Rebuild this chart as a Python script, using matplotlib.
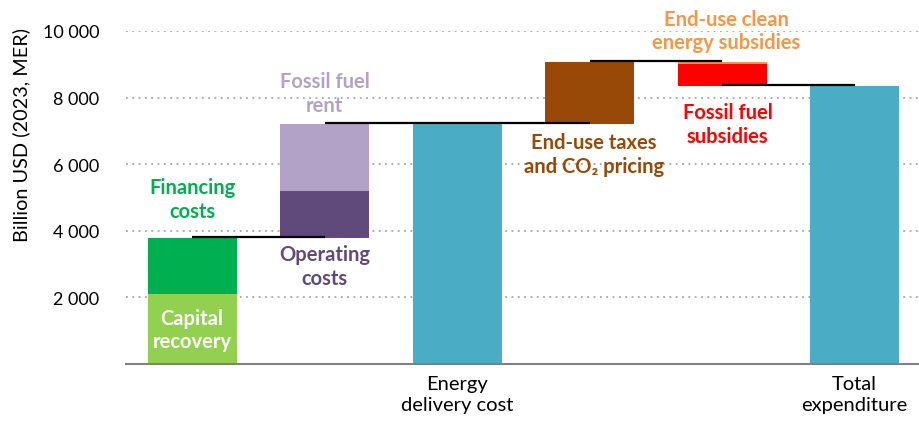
import matplotlib.pyplot as plt
from matplotlib.ticker import FixedLocator

plt.rcParams['font.family'] = ['Lato', 'DejaVu Sans']

# bar segments: (x position, bottom, height, colour name)
seg_x = [0, 0, 1, 1, 2, 3, 4, 4, 5]
seg_bottom = [0, 2100, 3780, 5190, 0, 7220, 9000, 8360, 0]
seg_height = [2100, 1680, 1410, 2030, 7220, 1850, 70, 640, 8360]
seg_color = ['#92D050', '#00B050', '#604A7B', '#B3A2C7', '#4BACC6',
             '#984807', '#F79646', '#FF0000', '#4BACC6']

# connectors between bars: (y, x from, x to)
conn_y = [3780, 7220, 9070, 8360]
conn_from = [0, 1, 3, 4]
conn_to = [1, 3, 4, 5]

yticks = [2000, 4000, 6000, 8000, 10000]
ytick_labels = ['2 000', '4 000', '6 000', '8 000', '10 000']
xtick_labels = ['', '', 'Energy\ndelivery cost', '', '', 'Total\nexpenditure']

labels = [
    (0, 4950, 'Financing\ncosts', '#00B050'),
    (0, 1030, 'Capital\nrecovery', 'white'),
    (1, 8140, 'Fossil fuel\nrent', '#B3A2C7'),
    (1, 2950, 'Operating\ncosts', '#604A7B'),
    (3.03, 6300, 'End-use taxes\nand CO\u2082 pricing', '#984807'),
    (4.03, 10010, 'End-use clean\nenergy subsidies', '#F79646'),
    (4.04, 7200, 'Fossil fuel\nsubsidies', '#FF0000'),
]

fig = plt.figure(figsize=(9.2, 4.27), dpi=100)
ax = fig.add_axes([126 / 920, 1 - 365 / 427, 795 / 920, 333 / 427])

ax.bar(seg_x, seg_height, bottom=seg_bottom, color=seg_color, width=0.67, zorder=2)

for y, a, b in zip(conn_y, conn_from, conn_to):
    ax.plot([a, b], [y + 20, y + 20], color='black', lw=1.6, zorder=3,
            solid_capstyle='butt')

for x, y, txt, c in labels:
    ax.text(x, y, txt, color=c, fontsize=14.5, fontweight='bold', ha='center',
            va='center', linespacing=1.22, clip_on=False, zorder=4)

ax.set_xlim(-0.5, 5.5)
ax.set_ylim(0, 10000)
ax.yaxis.set_major_locator(FixedLocator(yticks))
ax.set_yticklabels(ytick_labels, fontsize=13)
ax.set_xticks(range(len(xtick_labels)))
ax.set_xticklabels(xtick_labels, fontsize=14.5, linespacing=1.25)
ax.tick_params(axis='both', length=0)
ax.tick_params(axis='y', pad=19)
ax.tick_params(axis='x', pad=8)
ax.set_ylabel('Billion USD (2023, MER)', fontsize=14.3)
ax.yaxis.set_label_coords(-0.121, 0.691)

ax.grid(axis='y', color='#A6A6A6', linestyle=(0, (1, 2.5)), lw=1.3, zorder=0)
for s in ['top', 'right', 'left']:
    ax.spines[s].set_visible(False)
ax.spines['bottom'].set_color('#808080')
ax.spines['bottom'].set_linewidth(1.5)

fig.savefig('out.png', dpi=100)
